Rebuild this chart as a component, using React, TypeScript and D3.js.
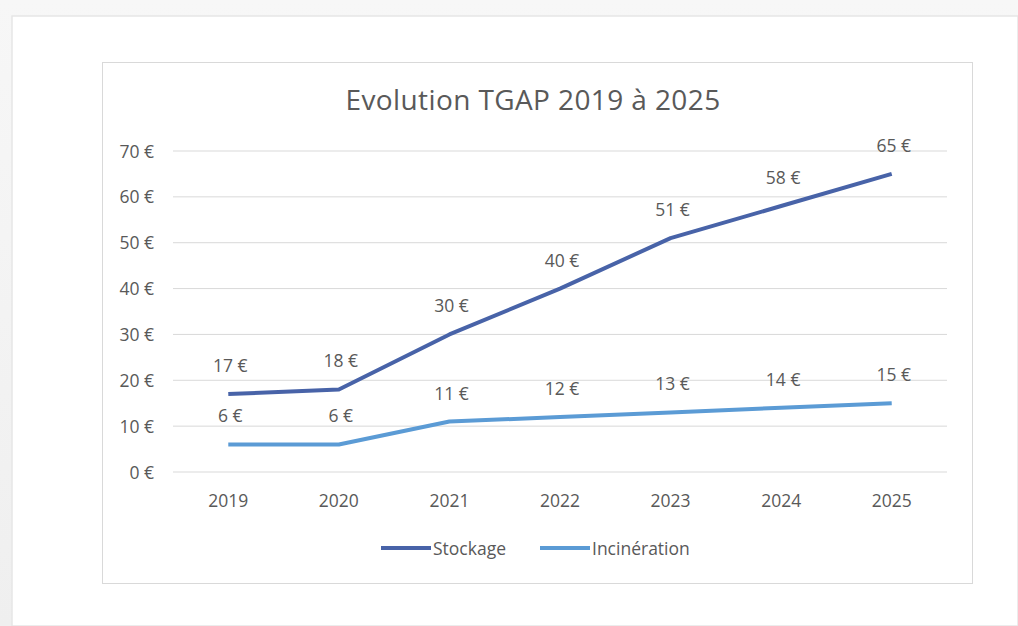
import React from "react";
import * as d3 from "d3";

const years = ["2019", "2020", "2021", "2022", "2023", "2024", "2025"];
const stockage = [17, 18, 30, 40, 51, 58, 65];
const incineration = [6, 6, 11, 12, 13, 14, 15];
const yTicks = [0, 10, 20, 30, 40, 50, 60, 70];
const seriesNames = ["Stockage", "Incinération"];
const title = "Evolution TGAP 2019 à 2025";

const W = 1018;
const H = 626;
const FONT = "'Open Sans', 'Noto Sans', sans-serif";
const TXT = "#595959";
const COLORS = ["#4863a8", "#5b9bd5"];
const FS = 17.5;

export default function App() {
  const x = d3.scalePoint<string>().domain(years).range([173, 947]).padding(0.5);
  const y = d3.scaleLinear().domain([0, 70]).range([472, 151]);
  const line = d3
    .line<number>()
    .x((_, i) => x(years[i]) as number)
    .y((d) => y(d));
  const series = [stockage, incineration];

  return (
    <div style={{ position: "fixed", left: 0, top: 0 }}>
      <svg width={W} height={H} style={{ display: "block" }}>
        <defs>
          <linearGradient id="topfade" x1="0" y1="0" x2="0" y2="1">
            <stop offset="0" stopColor="#f7f7f7" />
            <stop offset="1" stopColor="#efefef" />
          </linearGradient>
        </defs>
        <rect x={0} y={0} width={W} height={H} fill="url(#topfade)" />
        <rect x={12} y={16} width={W - 12} height={H - 16} fill="#ffffff" stroke="#e6e6e6" strokeWidth={1.5} />
        <rect x={102.5} y={62.5} width={870} height={521} fill="#ffffff" stroke="#d9d9d9" strokeWidth={1} />
        <text
          x={533}
          y={110}
          textAnchor="middle"
          fontFamily={FONT}
          fontSize={28}
          letterSpacing={0.4}
          fill={TXT}
        >
          {title}
        </text>
        {yTicks.map((t) => (
          <g key={t}>
            <line x1={173} x2={947} y1={y(t)} y2={y(t)} stroke="#d9d9d9" strokeWidth={1} />
            <text x={154} y={y(t) + 6.5} textAnchor="end" fontFamily={FONT} fontSize={FS} fill={TXT}>
              {`${t} €`}
            </text>
          </g>
        ))}
        {years.map((yr) => (
          <text key={yr} x={x(yr)} y={507} textAnchor="middle" fontFamily={FONT} fontSize={FS} fill={TXT}>
            {yr}
          </text>
        ))}
        {series.map((s, si) => (
          <g key={si}>
            <path d={line(s) || ""} fill="none" stroke={COLORS[si]} strokeWidth={4} strokeLinejoin="round" />
            {s.map((v, i) => (
              <text
                key={i}
                x={(x(years[i]) as number) + 2}
                y={y(v) - 22}
                textAnchor="middle"
                fontFamily={FONT}
                fontSize={FS}
                fill={TXT}
              >
                {`${v} €`}
              </text>
            ))}
          </g>
        ))}
        {seriesNames.map((n, i) => {
          const lx = i === 0 ? 381 : 540;
          return (
            <g key={n}>
              <line x1={lx} x2={lx + 50} y1={548} y2={548} stroke={COLORS[i]} strokeWidth={4} />
              <text x={lx + 52} y={554.5} fontFamily={FONT} fontSize={FS} fill={TXT}>
                {n}
              </text>
            </g>
          );
        })}
      </svg>
    </div>
  );
}
